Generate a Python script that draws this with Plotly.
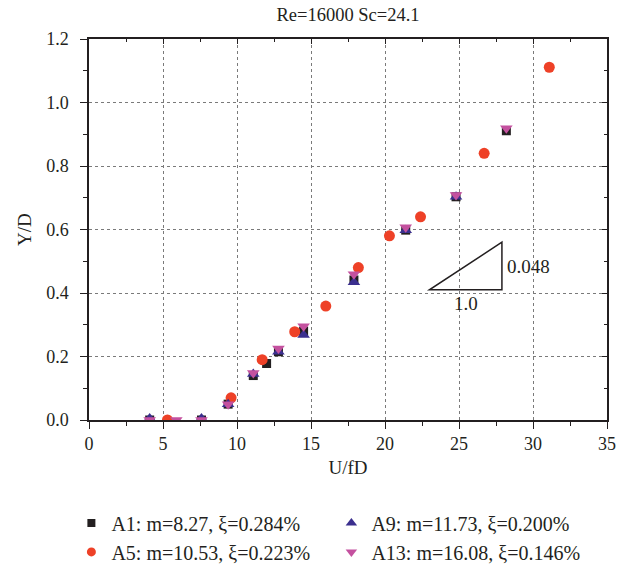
import plotly.graph_objects as go

# ---- data ----
a1_x = [4.1, 7.6, 9.4, 11.1, 12.0, 12.8, 14.5, 17.9, 21.4, 24.8, 28.2]
a1_y = [0.0, 0.0, 0.05, 0.14, 0.178, 0.215, 0.28, 0.441, 0.598, 0.703, 0.911]

a5_x = [5.3, 9.6, 11.7, 13.9, 16.0, 18.2, 20.3, 22.4, 26.7, 31.1]
a5_y = [0.0, 0.07, 0.19, 0.278, 0.359, 0.48, 0.58, 0.64, 0.84, 1.111]

a9_x = [4.1, 7.6, 9.4, 11.1, 12.8, 14.5, 17.9, 21.4, 24.8]
a9_y = [0.005, 0.005, 0.05, 0.145, 0.215, 0.268, 0.434, 0.598, 0.703]

a13_x = [4.1, 5.9, 7.6, 9.4, 11.1, 12.8, 14.5, 17.9, 21.4, 24.8, 28.2]
a13_y = [0.0, 0.0, 0.0, 0.05, 0.148, 0.225, 0.295, 0.459, 0.607, 0.709, 0.919]

names = ["A1: m=8.27, ξ=0.284%", "A5: m=10.53, ξ=0.223%",
         "A9: m=11.73, ξ=0.200%", "A13: m=16.08, ξ=0.146%"]

x_ticks = [0, 5, 10, 15, 20, 25, 30, 35]
y_ticks = [0.0, 0.2, 0.4, 0.6, 0.8, 1.0, 1.2]

# slope triangle (data units)
tri_x = [23.0, 27.9, 27.9]
tri_y = [0.41, 0.41, 0.56]
slope_label = "0.048"
run_label = "1.0"

FONT = "Liberation Serif"
TXT = "#231f20"

styles = [  # symbol, plot size, legend size, colour
    ("square", 9, 8, "#231f20"),
    ("circle", 11, 9, "#ee4127"),
    ("triangle-up", 11, 10, "#3b2f8e"),
    ("triangle-down", 11, 10, "#c4519f"),
]
series = [(a1_x, a1_y), (a5_x, a5_y), (a9_x, a9_y), (a13_x, a13_y)]
ranks = [1, 3, 2, 4]

fig = go.Figure()
for (xs, ys), (sym, sz, lsz, col) in zip(series, styles):
    fig.add_trace(go.Scatter(x=xs, y=ys, mode="markers", showlegend=False, hoverinfo="x+y",
                             marker=dict(symbol=sym, size=sz, color=col)))
# legend entries (smaller symbols as in the reference legend)
for name, (sym, sz, lsz, col), rk in zip(names, styles, ranks):
    fig.add_trace(go.Scatter(x=[None], y=[None], mode="markers", name=name, legendrank=rk,
                             marker=dict(symbol=sym, size=lsz, color=col)))

# slope triangle
path = "M {} {} L {} {} L {} {} Z".format(tri_x[0], tri_y[0], tri_x[1], tri_y[1], tri_x[2], tri_y[2])
fig.add_shape(type="path", path=path, xref="x", yref="y", line=dict(color="#231f20", width=1.5))
fig.add_annotation(x=tri_x[2], y=(tri_y[1] + tri_y[2]) / 2, xref="x", yref="y", text=slope_label,
                   showarrow=False, xanchor="left", xshift=3, font=dict(family=FONT, size=19, color=TXT))
fig.add_annotation(x=(tri_x[0] + tri_x[1]) / 2, y=tri_y[0], xref="x", yref="y", text=run_label,
                   showarrow=False, yanchor="top", yshift=-1, font=dict(family=FONT, size=19, color=TXT))

axis_common = dict(showline=True, linecolor="#231f20", linewidth=1.5,
                   showgrid=True, gridcolor="#7a7a7a", griddash="dot", gridwidth=1,
                   zeroline=False, tickcolor="#231f20", ticklen=7, tickwidth=1.2,
                   ticklabeloverflow="allow",
                   tickfont=dict(family=FONT, size=18, color=TXT))

fig.update_layout(
    width=618, height=569,
    margin=dict(l=89, r=11, t=39, b=149, autoexpand=False),
    paper_bgcolor="white", plot_bgcolor="white",
    font=dict(family=FONT, color=TXT),
    title=dict(text="Re=16000 Sc=24.1", xref="paper", x=0.5, xanchor="center", y=0.975, yanchor="middle",
               font=dict(family=FONT, size=18.5, color=TXT)),
    xaxis=dict(range=[0, 35], tickvals=x_ticks, ticks="outside",
               minor=dict(dtick=2.5, ticks="outside", ticklen=4, tickcolor="#231f20", showgrid=False),
               title=dict(text="U/fD", font=dict(family=FONT, size=19, color=TXT), standoff=7),
               **axis_common),
    yaxis=dict(range=[0, 1.2], tickvals=y_ticks, tickformat=".1f", ticks="outside",
               ticklabelstandoff=8,
               minor=dict(dtick=0.1, ticks="outside", ticklen=4, tickcolor="#231f20", showgrid=False),
               title=dict(text="Y/D", font=dict(family=FONT, size=19, color=TXT), standoff=10),
               **axis_common),
    xaxis2=dict(overlaying="x", matches="x", side="top", anchor="y", range=[0, 35], tickvals=x_ticks,
                ticks="inside", ticklen=5, showticklabels=False, showgrid=False, zeroline=False,
                showline=True, linecolor="#231f20", linewidth=1.5, tickcolor="#231f20",
                minor=dict(dtick=2.5, ticks="inside", ticklen=3, tickcolor="#231f20")),
    yaxis2=dict(overlaying="y", matches="y", side="right", anchor="x", range=[0, 1.2], tickvals=y_ticks,
                ticks="inside", ticklen=5, showticklabels=False, showgrid=False, zeroline=False,
                showline=True, linecolor="#231f20", linewidth=1.5, tickcolor="#231f20",
                minor=dict(dtick=0.1, ticks="inside", ticklen=3, tickcolor="#231f20")),
    showlegend=True,
    legend=dict(orientation="h", x=-0.034, xanchor="left", y=-0.219, yanchor="top",
                entrywidth=215, entrywidthmode="pixels", traceorder="normal",
                font=dict(family=FONT, size=20, color=TXT),
                bgcolor="rgba(0,0,0,0)"),
)

# invisible trace to anchor the mirrored axes
fig.add_trace(go.Scatter(x=[None], y=[None], xaxis="x2", yaxis="y2", showlegend=False, hoverinfo="skip"))

# place the figure at the page's top-left corner (remove the default body margin)
fig.write_html("out.html", config={"displayModeBar": False},
               post_script="document.body.style.margin='0';")
